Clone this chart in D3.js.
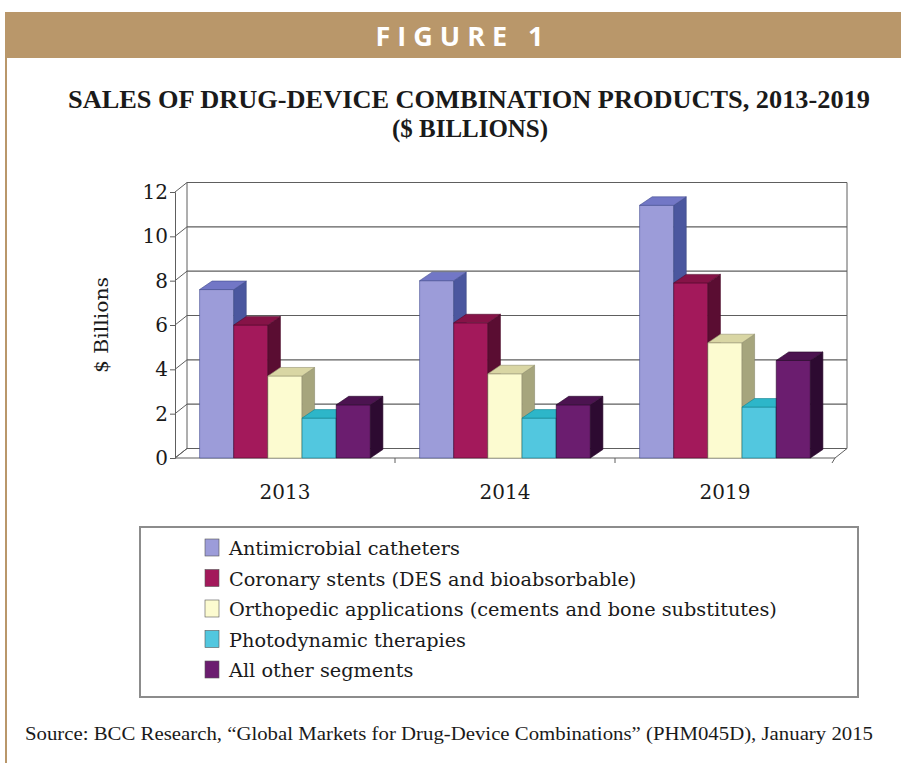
<!DOCTYPE html>
<html>
<head>
<meta charset="utf-8">
<script src="https://cdn.jsdelivr.net/npm/d3@7/dist/d3.min.js"></script>
<style>
  html, body { margin: 0; padding: 0; background: #ffffff; }
  svg { display: block; }
</style>
</head>
<body>
<script>
// ---------- DATA ----------
const categories = ["2013", "2014", "2019"];
const seriesNames = [
  "Antimicrobial catheters",
  "Coronary stents (DES and bioabsorbable)",
  "Orthopedic applications (cements and bone substitutes)",
  "Photodynamic therapies",
  "All other segments"
];
const antimicrobialCatheters = [7.6, 8.0, 11.4];
const coronaryStents        = [6.0, 6.1, 7.9];
const orthopedicApps        = [3.7, 3.8, 5.2];
const photodynamicTherapies = [1.8, 1.8, 2.3];
const allOtherSegments      = [2.4, 2.4, 4.4];
const yTickValues = [0, 2, 4, 6, 8, 10, 12];

const seriesValues = [antimicrobialCatheters, coronaryStents, orthopedicApps, photodynamicTherapies, allOtherSegments];

// ---------- STYLE ----------
const faceColors = [
  { front: "#9c9cd9", side: "#4b579f", top: "#7277c6" },
  { front: "#a3195b", side: "#5a0d32", top: "#861347" },
  { front: "#fcfbd0", side: "#a6a57d", top: "#d9d6a4" },
  { front: "#52c7df", side: "#14909f", top: "#2db6c9" },
  { front: "#6b1d6f", side: "#2d0a31", top: "#4c1350" }
];
const serif = "'DejaVu Serif', 'Liberation Serif', serif";
const times = "'Liberation Serif', 'DejaVu Serif', serif";

const W = 901, H = 763;
const svg = d3.select("body").append("svg").attr("width", W).attr("height", H);

// Background frame
svg.append("rect").attr("x", 0).attr("y", 0).attr("width", W).attr("height", H).attr("fill", "#ffffff");
svg.append("rect").attr("x", 5).attr("y", 12).attr("width", W - 5).attr("height", 46).attr("fill", "#b9976a");
svg.append("line").attr("x1", 6).attr("x2", 6).attr("y1", 58).attr("y2", H)
  .attr("stroke", "#b9976a").attr("stroke-width", 2);
svg.append("text").attr("x", 463).attr("y", 46).attr("text-anchor", "middle")
  .attr("font-family", "'Open Sans', 'Noto Sans', sans-serif").attr("font-weight", 700)
  .attr("font-size", 27).attr("letter-spacing", 7).attr("fill", "#ffffff")
  .text("FIGURE 1");

// Title
svg.append("text").attr("x", 469).attr("y", 108).attr("text-anchor", "middle")
  .attr("font-family", times).attr("font-weight", 700).attr("font-size", 26)
  .attr("fill", "#1a1a1a")
  .attr("textLength", 802).attr("lengthAdjust", "spacingAndGlyphs")
  .text("SALES OF DRUG-DEVICE COMBINATION PRODUCTS, 2013-2019");
svg.append("text").attr("x", 470).attr("y", 137).attr("text-anchor", "middle")
  .attr("font-family", times).attr("font-weight", 700).attr("font-size", 26)
  .attr("fill", "#1a1a1a")
  .attr("textLength", 156).attr("lengthAdjust", "spacingAndGlyphs")
  .text("($ BILLIONS)");

// ---------- SCALES ----------
const x0 = d3.scaleBand().domain(categories).range([175, 835]).paddingInner(0).paddingOuter(0);
const x1 = d3.scaleBand().domain(seriesNames).range([0, x0.bandwidth()]).paddingInner(0).paddingOuter(0.72);
const y = d3.scaleLinear().domain([0, 12]).range([458, 192]);

// depth offsets
const wallDx = 12, wallDy = -9.5;
const barDx = 12.5, barDy = -8.5;

const chart = svg.append("g");
const gridColor = "#5e5e5e";

// floor
const [xl, xr] = x0.range();
chart.append("path")
  .attr("d", `M${xl},${y(0)}L${xr},${y(0)}L${xr + wallDx},${y(0) + wallDy}L${xl + wallDx},${y(0) + wallDy}Z`)
  .attr("fill", "#ffffff").attr("stroke", gridColor).attr("stroke-width", 1);

// back wall gridlines + left wall diagonals
yTickValues.forEach(v => {
  chart.append("line")
    .attr("x1", xl + wallDx).attr("x2", xr + wallDx)
    .attr("y1", y(v) + wallDy).attr("y2", y(v) + wallDy)
    .attr("stroke", gridColor).attr("stroke-width", 1.1);
  chart.append("line")
    .attr("x1", xl).attr("x2", xl + wallDx)
    .attr("y1", y(v)).attr("y2", y(v) + wallDy)
    .attr("stroke", gridColor).attr("stroke-width", 1);
});
// back wall verticals
chart.append("line").attr("x1", xl + wallDx).attr("x2", xl + wallDx)
  .attr("y1", y(0) + wallDy).attr("y2", y(12) + wallDy).attr("stroke", gridColor);
chart.append("line").attr("x1", xr + wallDx).attr("x2", xr + wallDx)
  .attr("y1", y(0) + wallDy).attr("y2", y(12) + wallDy).attr("stroke", gridColor);

// y axis (front)
const yAxis = d3.axisLeft(y).tickValues(yTickValues).tickSize(5).tickPadding(2).tickFormat(d3.format("d"));
const yg = chart.append("g").attr("transform", `translate(${xl},0)`).call(yAxis);
yg.select(".domain").attr("stroke", gridColor);
yg.selectAll(".tick line").attr("stroke", gridColor);
yg.selectAll("text").attr("font-family", serif).attr("font-size", 20).attr("fill", "#1a1a1a");

// x axis
const xAxis = d3.axisBottom(x0).tickSize(0).tickPadding(27);
const xg = chart.append("g").attr("transform", `translate(0,${y(0)})`).call(xAxis);
xg.select(".domain").remove();
xg.selectAll("text").attr("font-family", serif).attr("font-size", 20).attr("fill", "#1a1a1a");
// small category-boundary ticks
categories.forEach((c, i) => {
  if (i > 0) {
    const bx = x0(c);
    chart.append("line").attr("x1", bx).attr("x2", bx).attr("y1", y(0)).attr("y2", y(0) + 5).attr("stroke", gridColor);
  }
});
chart.append("line").attr("x1", xr).attr("x2", xr - 3).attr("y1", y(0)).attr("y2", y(0) + 5).attr("stroke", gridColor);

// bars
const barsG = chart.append("g");
categories.forEach((c, ci) => {
  seriesNames.forEach((s, si) => {
    const v = seriesValues[si][ci];
    const bx = x0(c) + x1(s);
    const bw = x1.bandwidth();
    const top = y(v), bot = y(0);
    const col = faceColors[si];
    const g = barsG.append("g");
    g.append("path")
      .attr("d", `M${bx},${bot}L${bx + bw},${bot}L${bx + bw},${top}L${bx},${top}Z`)
      .attr("fill", col.front).attr("stroke", d3.color(col.side).darker(0.3)).attr("stroke-width", 0.6);
    g.append("path")
      .attr("d", `M${bx + bw},${bot}L${bx + bw + barDx},${bot + barDy}L${bx + bw + barDx},${top + barDy}L${bx + bw},${top}Z`)
      .attr("fill", col.side).attr("stroke", d3.color(col.side).darker(0.5)).attr("stroke-width", 0.6);
    g.append("path")
      .attr("d", `M${bx},${top}L${bx + bw},${top}L${bx + bw + barDx},${top + barDy}L${bx + barDx},${top + barDy}Z`)
      .attr("fill", col.top).attr("stroke", d3.color(col.side).darker(0.3)).attr("stroke-width", 0.6);
  });
});

// y axis title
svg.append("text")
  .attr("transform", "translate(108,325) rotate(-90)")
  .attr("text-anchor", "middle")
  .attr("font-family", serif).attr("font-size", 19).attr("fill", "#1a1a1a")
  .attr("textLength", 96).attr("lengthAdjust", "spacingAndGlyphs")
  .text("$ Billions");

// ---------- LEGEND ----------
const legend = svg.append("g");
legend.append("rect").attr("x", 140).attr("y", 527).attr("width", 718).attr("height", 170)
  .attr("fill", "none").attr("stroke", "#8c8c8c").attr("stroke-width", 2);
const ly = d3.scalePoint().domain(seriesNames).range([548, 670]);
seriesNames.forEach((s, i) => {
  legend.append("rect").attr("x", 205).attr("y", ly(s) - 9).attr("width", 14).attr("height", 17)
    .attr("fill", faceColors[i].front).attr("stroke", "#555").attr("stroke-width", 0.6);
  legend.append("text").attr("x", 229).attr("y", ly(s) + 7)
    .attr("font-family", serif).attr("font-size", 19.3).attr("fill", "#1a1a1a")
    .text(s);
});

// source
svg.append("text").attr("x", 449).attr("y", 740).attr("text-anchor", "middle")
  .attr("font-family", times).attr("font-size", 19.5).attr("fill", "#1a1a1a")
  .attr("textLength", 848).attr("lengthAdjust", "spacingAndGlyphs")
  .text("Source: BCC Research, \u201cGlobal Markets for Drug-Device Combinations\u201d (PHM045D), January 2015");
</script>
</body>
</html>
